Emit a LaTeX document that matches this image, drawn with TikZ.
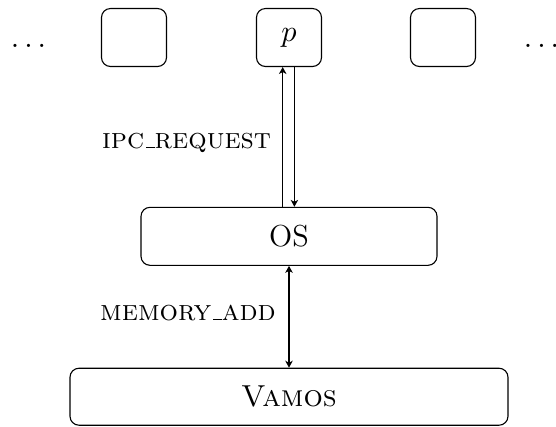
\documentclass[tikz,border=0pt]{standalone}
\usetikzlibrary{arrows.meta}
\newdimen\pxu \pxu=0.3623pt
\newcommand{\usc}{\leavevmode\kern.06em\vbox{\hrule width.3em}}
\tikzset{
  box/.style={draw, rounded corners=9\pxu, minimum height=58\pxu, inner sep=0pt},
  smallbox/.style={box, minimum width=65\pxu},
  lbl/.style={font=\fontsize{10.5}{12}\selectfont\scshape, inner sep=0pt},
  big/.style={font=\fontsize{11}{13}\selectfont},
  dotsf/.style={font=\fontsize{10.5}{12}\selectfont},
  tip/.tip={Stealth[length=2.5pt, width=2.7pt, inset=0.7pt]}
}
\begin{document}
\begin{tikzpicture}[x=0.3623pt, y=-0.3623pt]
\useasboundingbox (0,0) rectangle (556,426);
\node[smallbox] (b1) at (134,37.5) {};
\node[smallbox, big] (p) at (289,37.5) {$p$};
\node[smallbox] (b3) at (443,37.5) {};
\node[anchor=base, dotsf] (dl) at (28.5,47) {$\dots$};
\node[anchor=base, dotsf] (dr) at (541.5,47) {$\dots$};
\node[box, minimum width=296\pxu, big] (os) at (289,236.3) {OS};
\node[box, minimum width=438\pxu, minimum height=57\pxu, big] (vamos) at (289,396.7) {\textsc{Vamos}};
\draw[-tip] ([xshift=-6.3\pxu]os.north) -- ([xshift=-6.3\pxu]p.south)
  node[lbl, pos=0.46, left=4pt] {ipc\usc request};
\draw[-tip] ([xshift=5.4\pxu]p.south) -- ([xshift=5.4\pxu]os.north);
\draw[tip-tip] (os.south) -- (vamos.north)
  node[lbl, pos=0.46, left=4.6pt] {memory\usc add};
\end{tikzpicture}
\end{document}
